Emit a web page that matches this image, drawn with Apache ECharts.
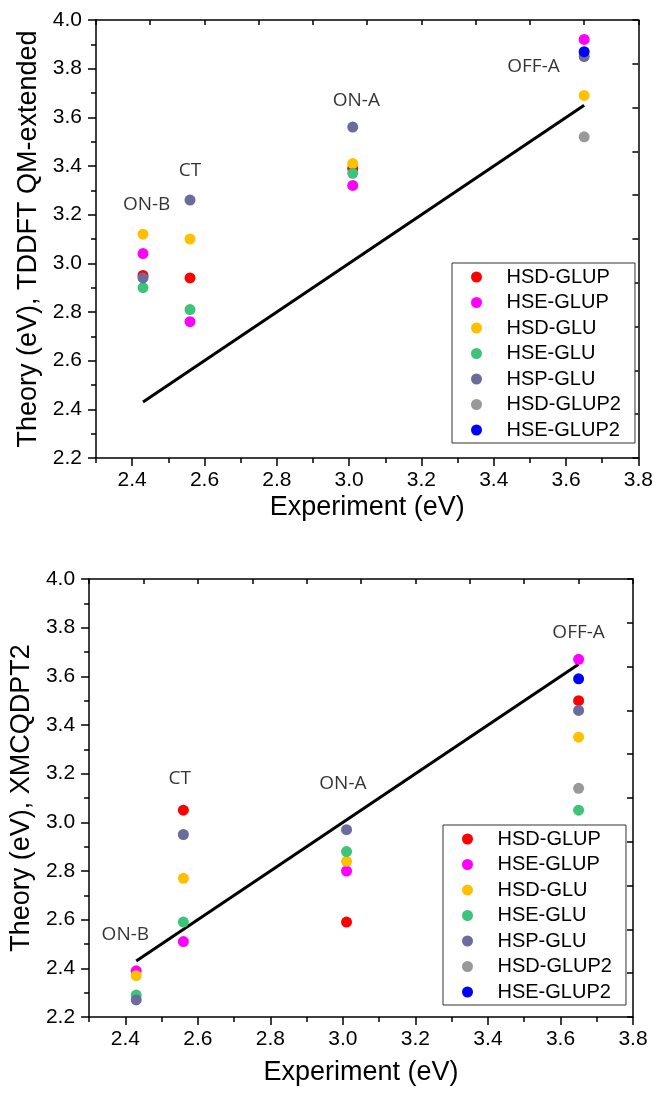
<!DOCTYPE html>
<html>
<head>
<meta charset="utf-8">
<script src="https://cdn.jsdelivr.net/npm/echarts@6/dist/echarts.min.js"></script>
<style>
  html, body { margin: 0; padding: 0; background: #fff; }
  #chart { width: 656px; height: 1099px; }
</style>
</head>
<body>
<div id="chart"></div>
<script>
  // experimental energies of the four states (x positions)
  const states = ['ON-B', 'CT', 'ON-A', 'OFF-A'];
  const expEnergy = [2.43, 2.56, 3.01, 3.65];

  const seriesNames = ['HSD-GLUP', 'HSE-GLUP', 'HSD-GLU', 'HSE-GLU', 'HSP-GLU', 'HSD-GLUP2', 'HSE-GLUP2'];
  const seriesColors = ['#ff0000', '#ff00ff', '#ffc000', '#3dc47a', '#6b6b9e', '#999999', '#0000ff'];

  // top panel: TDDFT QM-extended
  const tdHsdGlup  = [2.95, 2.94, 3.39, null];
  const tdHseGlup  = [3.04, 2.76, 3.32, 3.92];
  const tdHsdGlu   = [3.12, 3.10, 3.41, 3.69];
  const tdHseGlu   = [2.90, 2.81, 3.37, null];
  const tdHspGlu   = [2.94, 3.26, 3.56, 3.85];
  const tdHsdGlup2 = [null, null, null, 3.52];
  const tdHseGlup2 = [null, null, null, 3.87];

  // bottom panel: XMCQDPT2
  const xmHsdGlup  = [null, 3.05, 2.59, 3.50];
  const xmHseGlup  = [2.39, 2.51, 2.80, 3.67];
  const xmHsdGlu   = [2.37, 2.77, 2.84, 3.35];
  const xmHseGlu   = [2.29, 2.59, 2.88, 3.05];
  const xmHspGlu   = [2.27, 2.95, 2.97, 3.46];
  const xmHsdGlup2 = [null, null, null, 3.14];
  const xmHseGlup2 = [null, null, null, 3.59];

  // diagonal y = x reference line
  const diagX = [2.43, 3.65];
  const diagY = [2.43, 3.65];

  // state label anchors (data coords)
  const tdLabelX = [2.44, 2.56, 3.02, 3.51];
  const tdLabelY = [3.24, 3.38, 3.67, 3.81];
  const xmLabelX = [2.40, 2.55, 3.00, 3.65];
  const xmLabelY = [2.54, 3.18, 3.16, 3.78];

  // axis ticks
  const xMajor = [2.4, 2.6, 2.8, 3.0, 3.2, 3.4, 3.6, 3.8];
  const xMinor = [2.3, 2.5, 2.7, 2.9, 3.1, 3.3, 3.5, 3.7];

  const tdSets = [tdHsdGlup, tdHseGlup, tdHsdGlu, tdHseGlu, tdHspGlu, tdHsdGlup2, tdHseGlup2];
  const xmSets = [xmHsdGlup, xmHseGlup, xmHsdGlu, xmHseGlu, xmHspGlu, xmHsdGlup2, xmHseGlup2];

  const FONT = 'Liberation Sans';

  function pairs(vals) {
    let out = [];
    for (let i = 0; i < vals.length; i++) {
      if (vals[i] != null) out.push([expEnergy[i], vals[i]]);
    }
    return out;
  }

  function makeAxes(g, yName, xGap) {
    let xa = [
      {
        gridIndex: g, type: 'value', position: 'bottom', min: 2.3, max: 3.8,
        axisLine: { show: true, lineStyle: { color: '#000', width: 1.5 } },
        axisTick: { show: true, customValues: xMajor, length: 8, lineStyle: { color: '#000', width: 1.5 } },
        axisLabel: { customValues: xMajor, formatter: v => v.toFixed(1), fontFamily: FONT, fontSize: 21, color: '#000', margin: 12 },
        splitLine: { show: false },
        name: 'Experiment (eV)', nameLocation: 'middle', nameGap: xGap,
        nameTextStyle: { fontFamily: FONT, fontSize: 27, color: '#000' }
      },
      {
        gridIndex: g, type: 'value', position: 'bottom', min: 2.3, max: 3.8,
        axisLine: { show: false },
        axisTick: { show: true, customValues: xMinor, length: 5, lineStyle: { color: '#000', width: 1.5 } },
        axisLabel: { show: false }, splitLine: { show: false }
      },
      {
        gridIndex: g, type: 'value', position: 'top', min: 0, max: 10, interval: 1,
        axisLine: { show: true, lineStyle: { color: '#000', width: 1.5 } },
        axisTick: { show: true, inside: true, length: 5, lineStyle: { color: '#000', width: 1.5 } },
        axisLabel: { show: false }, splitLine: { show: false }
      }
    ];
    let ya = [
      {
        gridIndex: g, type: 'value', position: 'left', min: 2.2, max: 4.0, interval: 0.2,
        axisLine: { show: true, lineStyle: { color: '#000', width: 1.5 } },
        axisTick: { show: true, length: 8, lineStyle: { color: '#000', width: 1.5 } },
        minorTick: { show: true, splitNumber: 2, length: 5, lineStyle: { color: '#000', width: 1.5 } },
        axisLabel: { formatter: v => v.toFixed(1), fontFamily: FONT, fontSize: 21, color: '#000', margin: 14 },
        splitLine: { show: false },
        name: yName, nameLocation: 'middle', nameGap: 50,
        nameTextStyle: { fontFamily: FONT, fontSize: 27, color: '#000' }
      },
      {
        gridIndex: g, type: 'value', position: 'right', min: 0, max: 10, interval: 1,
        axisLine: { show: true, lineStyle: { color: '#000', width: 1.5 } },
        axisTick: { show: true, inside: true, length: 6, lineStyle: { color: '#000', width: 1.5 } },
        axisLabel: { show: false }, splitLine: { show: false }
      }
    ];
    return { xa, ya };
  }

  function makeSeries(g, sets, labX, labY) {
    let xi = g * 3, yi = g * 2;
    let s = [];
    s.push({
      type: 'line', xAxisIndex: xi, yAxisIndex: yi, silent: true,
      data: [[diagX[0], diagY[0]], [diagX[1], diagY[1]]],
      symbol: 'none', lineStyle: { color: '#000', width: 3 }, z: 1
    });
    for (let i = 0; i < seriesNames.length; i++) {
      s.push({
        name: seriesNames[i], type: 'scatter', xAxisIndex: xi, yAxisIndex: yi,
        data: pairs(sets[i]), symbolSize: 11,
        itemStyle: { color: seriesColors[i], opacity: 1 }, z: 2 + i
      });
    }
    s.push({
      type: 'scatter', xAxisIndex: xi, yAxisIndex: yi, silent: true, symbolSize: 1,
      itemStyle: { color: 'rgba(0,0,0,0)' },
      data: states.map((n, i) => ({ name: n, value: [labX[i], labY[i]] })),
      label: {
        show: true, position: 'inside', formatter: p => p.name,
        fontFamily: 'Open Sans', fontSize: 19, color: '#000'
      }
    });
    return s;
  }

  function makeLegend(left, topPx) {
    return {
      orient: 'vertical', left: left, top: topPx,
      data: seriesNames, icon: 'circle', symbolKeepAspect: true,
      itemWidth: 50, itemHeight: 11, itemGap: 5.5,
      padding: [4, 14, 3, 19],
      borderColor: '#333', borderWidth: 1, backgroundColor: '#fff',
      textStyle: { fontFamily: FONT, fontSize: 20, color: '#000' },
      selectedMode: false
    };
  }

  let chart = echarts.init(document.getElementById('chart'));

  let axesTop = makeAxes(0, 'Theory (eV), TDDFT QM-extended', 36);
  let axesBot = makeAxes(1, 'Theory (eV), XMCQDPT2', 42);

  let option = {
    animation: false,
    backgroundColor: '#fff',
    grid: [
      { left: 96, top: 20, width: 545, height: 438 },
      { left: 88, top: 579, width: 545, height: 438 }
    ],
    xAxis: axesTop.xa.concat(axesBot.xa),
    yAxis: axesTop.ya.concat(axesBot.ya),
    legend: [makeLegend(452, 263), makeLegend(443, 825)],
    series: makeSeries(0, tdSets, tdLabelX, tdLabelY).concat(makeSeries(1, xmSets, xmLabelX, xmLabelY))
  };

  chart.setOption(option);
</script>
</body>
</html>
